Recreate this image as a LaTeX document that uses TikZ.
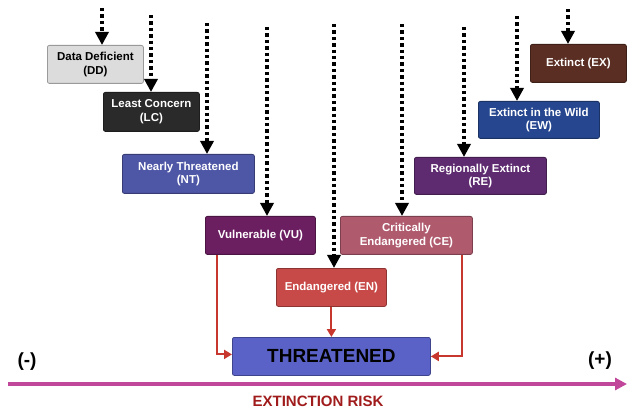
\documentclass[tikz,border=0pt]{standalone}
\usepackage{fontspec}
\setmainfont{Liberation Sans}
\usetikzlibrary{arrows.meta}
\definecolor{ddfill}{HTML}{DCDCDC}
\definecolor{lcfill}{HTML}{2A2A2A}
\definecolor{ntfill}{HTML}{4E56A6}
\definecolor{vufill}{HTML}{6B1E60}
\definecolor{enfill}{HTML}{C84A48}
\definecolor{cefill}{HTML}{B05A6E}
\definecolor{refill}{HTML}{5E2B70}
\definecolor{ewfill}{HTML}{26478F}
\definecolor{exfill}{HTML}{5A2E22}
\definecolor{thfill}{HTML}{5A62C8}
\definecolor{redline}{HTML}{C8372D}
\definecolor{axiscol}{HTML}{C0479A}
\definecolor{risk}{HTML}{A01C1C}
\tikzset{
  cat/.style={draw=#1!70!black, fill=#1, rounded corners=2pt, line width=0.8pt,
    text=white, font=\bfseries\fontsize{11.5}{13.5}\selectfont, align=center,
    inner sep=0pt, anchor=north west},
  dotarrow/.style={line width=3.6pt, dash pattern=on 3.4pt off 3pt,
    -{Triangle[width=13pt,length=13pt]}, black},
  redarrow/.style={redline, line width=2pt, -{Triangle[width=9pt,length=8pt]}},
}
\begin{document}
\begin{tikzpicture}[x=1pt,y=-1pt]
\useasboundingbox (0,0) rectangle (628,411);
% boxes
\node[cat=ddfill, text=black, minimum width=96pt, minimum height=38pt] (dd) at (47,45) {Data Deficient\\(DD)};
\node[cat=lcfill, minimum width=96pt, minimum height=39pt] (lc) at (103,92) {Least Concern\\(LC)};
\node[cat=ntfill, minimum width=132pt, minimum height=39pt] (nt) at (122,154) {Nearly Threatened\\(NT)};
\node[cat=vufill, minimum width=110pt, minimum height=38pt] (vu) at (205,216) {Vulnerable (VU)};
\node[cat=enfill, minimum width=110pt, minimum height=38pt] (en) at (276,268) {Endangered (EN)};
\node[cat=cefill, minimum width=132pt, minimum height=38pt] (ce) at (340,216) {Critically\\Endangered (CE)};
\node[cat=refill, minimum width=132pt, minimum height=37pt] (re) at (414,157) {Regionally Extinct\\(RE)};
\node[cat=ewfill, minimum width=121pt, minimum height=37pt] (ew) at (478,101) {Extinct in the Wild\\(EW)};
\node[cat=exfill, minimum width=96pt, minimum height=38pt] (ex) at (530,44) {Extinct (EX)};
\node[cat=thfill, text=black, minimum width=198pt, minimum height=38pt,
  font=\bfseries\fontsize{19}{22}\selectfont] (th) at (232,337) {THREATENED};
% dotted arrow starts
\coordinate (sdd) at (102,8);
\coordinate (slc) at (151,15);
\coordinate (snt) at (207,23);
\coordinate (svu) at (267,27);
\coordinate (sen) at (334,24);
\coordinate (sce) at (402,24);
\coordinate (sre) at (464,27);
\coordinate (sew) at (517,16);
\coordinate (sex) at (568,9);
\draw[dotarrow] (sdd) -- (sdd |- dd.north);
\draw[dotarrow] (slc) -- (slc |- lc.north);
\draw[dotarrow] (snt) -- (snt |- nt.north);
\draw[dotarrow] (svu) -- (svu |- vu.north);
\draw[dotarrow] (sen) -- (sen |- en.north);
\draw[dotarrow] (sce) -- (sce |- ce.north);
\draw[dotarrow] (sre) -- (sre |- re.north);
\draw[dotarrow] (sew) -- (sew |- ew.north);
\draw[dotarrow] (sex) -- (sex |- ex.north);
% red arrows
\draw[redarrow] ([xshift=-43pt]vu.south) |- ([yshift=2pt]th.west);
\draw[redarrow] (en.south) -- (en.south |- th.north);
\draw[redarrow] ([xshift=56pt]ce.south) |- ([yshift=0pt]th.east);
% axis
\coordinate (al) at (8,384);
\coordinate (ar) at (627,384);
\draw[axiscol, line width=3.8pt, -{Triangle[width=12pt,length=12pt]}] (al) -- (ar);
\node[font=\bfseries\fontsize{19}{22}\selectfont] (minus) at (27,362) {(-)};
\node[font=\bfseries\fontsize{19}{22}\selectfont] (plus) at (600,361) {(+)};
\node[text=risk, font=\bfseries\fontsize{15}{18}\selectfont] (riskl) at (318,401) {EXTINCTION RISK};
\end{tikzpicture}
\end{document}
